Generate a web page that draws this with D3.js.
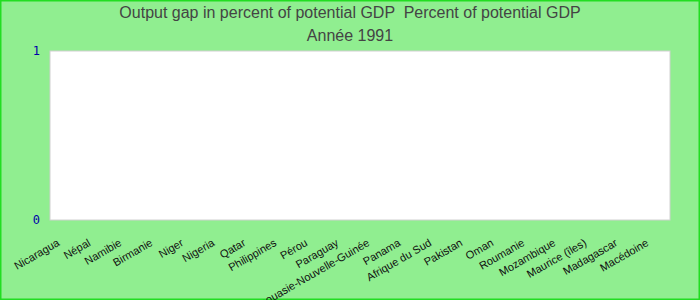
<!DOCTYPE html>
<html>
<head>
<meta charset="utf-8">
<script src="https://cdn.jsdelivr.net/npm/d3@7"></script>
<style>
  html, body { margin: 0; padding: 0; background: #90ee90; }
  svg { display: block; }
</style>
</head>
<body>
<div id="chart"></div>
<script>
// Chart data
const titleLines = ["Output gap in percent of potential GDP  Percent of potential GDP", "Année 1991"];
const categories = ["Nicaragua", "Népal", "Namibie", "Birmanie", "Niger", "Nigeria", "Qatar", "Philippines",
  "Pérou", "Paraguay", "Papouasie-Nouvelle-Guinée", "Panama", "Afrique du Sud", "Pakistan", "Oman",
  "Roumanie", "Mozambique", "Maurice (îles)", "Madagascar", "Macédoine"];
const values = []; // no values shown for 1991
const yTicks = [0, 1];

const width = 700, height = 300;
const margin = { top: 51, right: 30, bottom: 80, left: 50 };

const svg = d3.select('#chart')
  .append('svg')
  .attr('width', width)
  .attr('height', height);

// background + outer border
svg.append('rect')
  .attr('x', 0.75).attr('y', 0.75)
  .attr('width', width - 1.5).attr('height', height - 1.5)
  .attr('fill', '#90ee90')
  .attr('stroke', '#22dd22')
  .attr('stroke-width', 1.5);

// title
svg.append('g')
  .selectAll('text')
  .data(titleLines)
  .enter()
  .append('text')
  .attr('x', width / 2)
  .attr('y', (d, i) => 18 + i * 23)
  .attr('text-anchor', 'middle')
  .style('white-space', 'pre')
  .style('font-family', 'Liberation Sans, Arial, sans-serif')
  .style('font-size', '16px')
  .style('fill', '#444')
  .text(d => d);

const x = d3.scaleBand()
  .domain(categories)
  .range([margin.left, width - margin.right]);

const y = d3.scaleLinear()
  .domain([0, 1])
  .range([height - margin.bottom, margin.top]);

// plot area
svg.append('rect')
  .attr('x', margin.left)
  .attr('y', margin.top)
  .attr('width', width - margin.left - margin.right)
  .attr('height', height - margin.top - margin.bottom)
  .attr('fill', '#fff')
  .attr('stroke', '#d0d0d0')
  .attr('stroke-width', 1);

// bars (none for this year)
svg.append('g')
  .selectAll('rect')
  .data(values)
  .enter()
  .append('rect')
  .attr('x', (d, i) => x(categories[i]))
  .attr('width', x.bandwidth())
  .attr('y', d => y(Math.max(0, d)))
  .attr('height', d => Math.abs(y(d) - y(0)))
  .attr('fill', '#4472c4');

// y axis
const yAxis = svg.append('g')
  .attr('transform', `translate(${margin.left},0)`)
  .call(d3.axisLeft(y).tickValues(yTicks).tickFormat(d3.format('d')).tickSize(0).tickPadding(10));
yAxis.select('.domain').remove();
yAxis.selectAll('text')
  .style('font-family', 'DejaVu Sans Mono, monospace')
  .style('font-size', '12px')
  .style('fill', '#0000aa');

// x axis
const xAxis = svg.append('g')
  .attr('transform', `translate(0,${height - margin.bottom})`)
  .call(d3.axisBottom(x).tickSize(0).tickPadding(0));
xAxis.select('.domain').remove();
xAxis.selectAll('text')
  .attr('text-anchor', 'end')
  .attr('dx', '-6')
  .attr('dy', '0')
  .attr('transform', 'translate(0,22) rotate(-30)')
  .style('font-family', 'Liberation Sans, Arial, sans-serif')
  .style('font-size', '11px')
  .style('fill', '#111');
</script>
</body>
</html>
